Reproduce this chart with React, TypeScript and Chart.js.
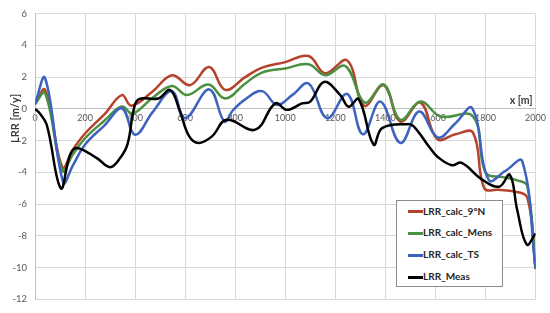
import { useEffect, useRef } from "react";
import { Chart, registerables } from "chart.js";
Chart.register(...registerables);

const xTicks = [0, 200, 400, 600, 800, 1000, 1200, 1400, 1600, 1800, 2000];
const yTicks = [-12, -10, -8, -6, -4, -2, 0, 2, 4, 6];

const seriesNames = ["LRR_calc_9°N", "LRR_calc_Mens", "LRR_calc_TS", "LRR_Meas"];
const seriesColors = ["#B5432C", "#4A9040", "#3E63BE", "#000000"];

const x9N = [0, 40, 110, 150, 200, 280, 347, 385, 470, 547, 620, 696, 760, 840, 907, 1000, 1093, 1160, 1247, 1315, 1393, 1460, 1540, 1607, 1680, 1750, 1795, 1850, 1913, 1967, 2000];
const y9N = [0.3, 1.2, -3.7, -2.6, -1.55, -0.3, 0.87, 0.2, 1.1, 2.12, 1.5, 2.64, 1.2, 2.0, 2.6, 2.95, 3.33, 2.25, 3.06, 0.2, 1.5, -0.8, 0.4, -1.9, -1.6, -1.5, -5.0, -5.1, -5.2, -5.6, -10.1];

const xMens = [0, 40, 110, 150, 200, 280, 347, 390, 470, 547, 607, 693, 760, 840, 907, 1000, 1093, 1160, 1240, 1318, 1393, 1460, 1540, 1620, 1750, 1800, 1870, 1927, 1967, 2000];
const yMens = [0.3, 1.0, -3.9, -2.9, -1.85, -0.7, 0.15, -0.3, 0.7, 1.45, 0.87, 1.54, 0.66, 1.6, 2.29, 2.55, 2.81, 2.12, 2.7, 0.4, 1.54, -0.69, 0.46, -0.48, -0.48, -4.0, -4.3, -4.5, -4.86, -10.1];

const xTS = [0, 40, 113, 150, 200, 280, 347, 400, 470, 547, 600, 696, 757, 790, 840, 907, 967, 1030, 1093, 1167, 1247, 1310, 1380, 1460, 1535, 1610, 1680, 1747, 1813, 1880, 1947, 2000];
const yTS = [0.3, 1.95, -4.65, -3.6, -2.25, -1.0, 0.04, -1.63, -0.2, 1.12, -0.59, 1.23, -0.8, -0.1, 0.6, 1.12, 0.25, 0.9, 1.6, -0.59, 0.95, -1.6, 0.46, -2.15, -0.17, -1.8, -0.9, 0.04, -4.48, -3.9, -3.3, -10.06];

const xMeas = [0, 20, 47, 103, 140, 167, 247, 300, 340, 370, 395, 415, 493, 540, 580, 615, 653, 707, 765, 880, 960, 1007, 1067, 1100, 1155, 1220, 1253, 1293, 1353, 1387, 1487, 1513, 1580, 1607, 1665, 1705, 1785, 1855, 1897, 1927, 1965, 2000];
const yMeas = [0, -0.3, -1.0, -5.0, -2.9, -2.46, -3.1, -3.67, -3.1, -2.2, 0.0, 0.62, 0.66, 1.19, -0.2, -1.7, -2.15, -1.73, -0.69, -1.31, 0.35, -0.06, 0.35, 0.46, 1.7, 0.87, 0.14, 0.62, -2.25, -1.21, -0.96, -1.1, -2.5, -3.0, -3.55, -3.4, -4.44, -4.9, -4.15, -6.4, -8.55, -7.85];

const seriesX = [x9N, xMens, xTS, xMeas];
const seriesY = [y9N, yMens, yTS, yMeas];

const FONT = "Lato, 'Liberation Sans', sans-serif";

const titlesPlugin = {
  id: "axisTitles",
  afterDraw(chart: any) {
    const { ctx, scales } = chart;
    const xs = scales.x;
    const ys = scales.y;
    ctx.save();
    ctx.fillStyle = "#3a3a3a";
    ctx.font = `bold 11px ${FONT}`;
    ctx.translate(15, ys.getPixelForValue(-0.6));
    ctx.rotate(-Math.PI / 2);
    ctx.textAlign = "center";
    ctx.textBaseline = "middle";
    ctx.fillText("LRR [m/y]", 0, 0);
    ctx.restore();
    ctx.save();
    ctx.fillStyle = "#3a3a3a";
    ctx.font = `bold 10.5px ${FONT}`;
    ctx.textAlign = "right";
    ctx.textBaseline = "middle";
    ctx.fillText("x [m]", xs.right - 3, ys.getPixelForValue(0.5));
    ctx.restore();
  },
};

export default function App() {
  const ref = useRef<HTMLCanvasElement | null>(null);
  useEffect(() => {
    document.body.style.margin = "0";
    const canvas = ref.current;
    if (!canvas) return;
    const datasets = seriesNames.map((name, i) => ({
      label: name,
      data: seriesX[i].map((x, j) => ({ x, y: seriesY[i][j] })),
      borderColor: seriesColors[i],
      backgroundColor: seriesColors[i],
      borderWidth: 2.5,
      pointRadius: 0,
      tension: 0.4,
      fill: false,
      order: 4 - i,
    }));
    const chart = new Chart(canvas, {
      type: "line",
      data: { datasets },
      plugins: [titlesPlugin],
      options: {
        animation: false,
        responsive: false,
        maintainAspectRatio: false,
        layout: { padding: { left: 0, top: 11, right: 14, bottom: 13 } },
        plugins: { legend: { display: false }, tooltip: { enabled: false } },
        scales: {
          x: {
            type: "linear",
            position: { y: 0 } as any,
            min: 0,
            max: 2000,
            afterBuildTicks: (s: any) => {
              s.ticks = xTicks.map((v) => ({ value: v }));
            },
            ticks: {
              padding: 4,
              maxRotation: 0,
              autoSkip: false,
              color: "#595959",
              font: { size: 9, family: FONT },
              callback: (v: any) => String(v),
            },
            grid: { color: "#D9D9D9", drawTicks: false, lineWidth: 1 },
            border: { color: "#BFBFBF", width: 1 },
          },
          y: {
            type: "linear",
            position: "left",
            min: -12,
            max: 6,
            afterBuildTicks: (s: any) => {
              s.ticks = yTicks.map((v) => ({ value: v }));
            },
            afterFit: (s: any) => {
              s.width = 35;
            },
            ticks: {
              padding: 8,
              color: "#595959",
              font: { size: 9.5, family: FONT },
              callback: (v: any) => String(v),
            },
            grid: { color: "#D9D9D9", drawTicks: false, lineWidth: 1 },
            border: { color: "#BFBFBF", width: 1 },
          },
        },
      },
    });
    return () => chart.destroy();
  }, []);

  const rowTops = [211.5, 233.3, 255, 277];
  return (
    <div style={{ position: "relative", width: 550, height: 313 }}>
      <canvas ref={ref} width={550} height={313} style={{ display: "block" }} />
      <div
        style={{
          position: "absolute",
          left: 396,
          top: 200,
          width: 107,
          height: 87,
          border: "1px solid #8C8C8C",
          background: "#fff",
          boxSizing: "border-box",
        }}
      />
      {seriesNames.map((name, i) => (
        <div key={name}>
          <div
            style={{
              position: "absolute",
              left: 408,
              top: rowTops[i] - 1.5,
              width: 15,
              height: 3,
              background: seriesColors[i],
            }}
          />
          <div
            style={{
              position: "absolute",
              left: 423,
              top: rowTops[i] - 7,
              height: 14,
              lineHeight: "14px",
              font: `bold 10px ${FONT}`,
              color: "#262626",
              whiteSpace: "nowrap",
            }}
          >
            {name}
          </div>
        </div>
      ))}
    </div>
  );
}
